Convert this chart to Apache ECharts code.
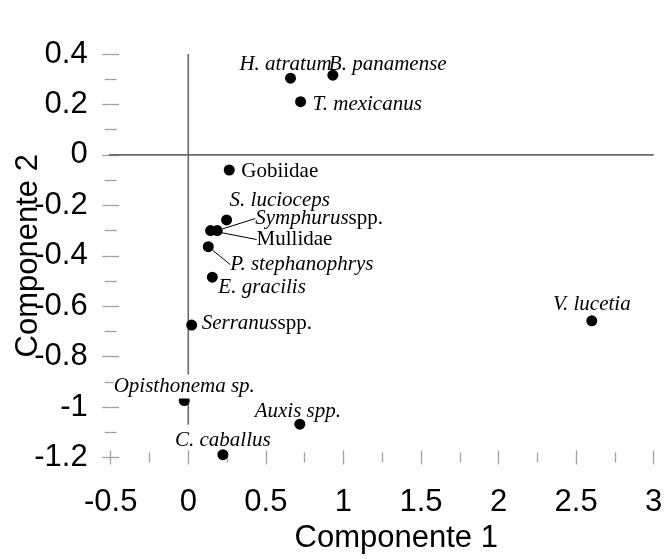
<!DOCTYPE html>
<html><head><meta charset="utf-8">
<script src="https://cdn.jsdelivr.net/npm/echarts@6/dist/echarts.min.js"></script>
<style>html,body{margin:0;padding:0;background:#fff}#c{width:671px;height:559px}</style>
</head><body><div id="c"></div>
<script>
// ---- data ----
const speciesNames = ['H. atratum','B. panamense','T. mexicanus','Gobiidae','S. lucioceps','Symphurus spp.','Mullidae','P. stephanophrys','E. gracilis','Serranus spp.','Opisthonema sp.','Auxis spp.','C. caballus','V. lucetia'];
const componente1 = [0.659, 0.932, 0.724, 0.264, 0.247, 0.187, 0.144, 0.129, 0.155, 0.022, -0.026, 0.719, 0.223, 2.601];
const componente2 = [0.304, 0.316, 0.211, -0.060, -0.258, -0.300, -0.300, -0.364, -0.485, -0.675, -0.974, -1.068, -1.189, -0.658];
const xAxisMin = -0.5, xAxisMax = 3, xAxisStep = 0.5;
const yAxisMin = -1.2, yAxisMax = 0.4, yAxisStep = 0.2;
// origin reference lines (x = 0 and y = 0)
const vRefX = [0, 0], vRefY = [0.4, -1.07];
const hRefX = [-0.55, 3], hRefY = [0, 0];

// ---- label text (italic genus / normal) ----
const labelRich = {
  'H. atratum': '{i|H. atratum}',
  'B. panamense': '{i|B. panamense}',
  'T. mexicanus': '{i|T. mexicanus}',
  'Gobiidae': '{n|Gobiidae}',
  'S. lucioceps': '{i|S. lucioceps}',
  'Symphurus spp.': '{i|Symphurus}{n|spp.}',
  'Mullidae': '{n|Mullidae}',
  'P. stephanophrys': '{i|P. stephanophrys}',
  'E. gracilis': '{i|E. gracilis}',
  'Serranus spp.': '{i|Serranus}{n|spp.}',
  'Opisthonema sp.': '{i|Opisthonema sp.}',
  'Auxis spp.': '{i|Auxis spp.}',
  'C. caballus': '{i|C. caballus}',
  'V. lucetia': '{i|V. lucetia}'
};
// ---- label placement (style, not data) ----
const labelPlace = {
  'H. atratum': {align:'center', off:[-5,-14]},
  'B. panamense': {align:'left', off:[-4,-11]},
  'T. mexicanus': {align:'left', off:[12,3]},
  'Gobiidae': {align:'left', off:[12,1]},
  'S. lucioceps': {align:'left', off:[3,-19]},
  'Symphurus spp.': {align:'left', off:[38,-12], line:true},
  'Mullidae': {align:'left', off:[46,9], line:true},
  'P. stephanophrys': {align:'left', off:[22,18], line:true},
  'E. gracilis': {align:'left', off:[6,10]},
  'Serranus spp.': {align:'left', off:[10,-2]},
  'Opisthonema sp.': {align:'center', off:[0,-14], bg:true},
  'Auxis spp.': {align:'center', off:[-2,-13]},
  'C. caballus': {align:'center', off:[0,-14]},
  'V. lucetia': {align:'center', off:[0,-16]}
};

const tickColor = '#a0a0a0';
const refColor = '#6a6a6a';
const labelFont = 'Liberation Serif';
const axisFont = 'Liberation Sans';

const scatterData = speciesNames.map((n, i) => {
  const p = labelPlace[n];
  const item = {
    name: n,
    value: [componente1[i], componente2[i]],
    label: {
      show: true,
      position: 'inside',
      align: p.align,
      verticalAlign: 'middle',
      offset: p.off,
      formatter: labelRich[n],
      color: '#000',
      opacity: 1,
      textBorderWidth: 0,
      backgroundColor: p.bg ? '#fff' : 'transparent',
      padding: p.bg ? [1, 0] : 0
    }
  };
  if (p.line) item.labelLine = {show: true, length2: 0, lineStyle: {color: '#000', width: 1, opacity: 1}};
  return item;
});

function makeXAxis(inside) {
  return {
    type: 'value', position: 'bottom', min: xAxisMin, max: xAxisMax, interval: xAxisStep,
    axisLine: {show: false, onZero: false}, splitLine: {show: false},
    axisTick: {show: true, inside: inside, length: 7, lineStyle: {color: tickColor, width: 1.3}},
    minorTick: {show: true, splitNumber: 2, length: 5, lineStyle: {color: tickColor, width: 1.3}},
    minorSplitLine: {show: false},
    axisLabel: {show: !inside, fontSize: 31, color: '#000', fontFamily: axisFont, margin: 29},
    name: inside ? '' : 'Componente 1', nameLocation: 'middle', nameGap: 65, nameMoveOverlap: false,
    nameTextStyle: {fontSize: 31, color: '#000', fontFamily: axisFont, padding: [0, 0, 0, 28]}
  };
}
function makeYAxis(inside) {
  return {
    type: 'value', position: 'left', min: yAxisMin, max: yAxisMax, interval: yAxisStep,
    axisLine: {show: false, onZero: false}, splitLine: {show: false},
    axisTick: {show: true, inside: inside, length: 8.5, lineStyle: {color: tickColor, width: 1.3}},
    minorTick: {show: true, splitNumber: 2, length: 6, lineStyle: {color: tickColor, width: 1.3}},
    minorSplitLine: {show: false},
    axisLabel: {show: !inside, fontSize: 31, color: '#000', fontFamily: axisFont, margin: 23},
    name: inside ? '' : 'Componente 2', nameLocation: 'middle', nameGap: 67, nameMoveOverlap: false,
    nameTextStyle: {fontSize: 31, color: '#000', fontFamily: axisFont}
  };
}

const chart = echarts.init(document.getElementById('c'), null, {renderer: 'canvas'});
chart.setOption({
  animation: false,
  backgroundColor: '#fff',
  grid: {left: 110.7, right: 17.3, top: 54, bottom: 101.5, containLabel: false, outerBoundsMode: 'none'},
  xAxis: [makeXAxis(false), makeXAxis(true)],
  yAxis: [makeYAxis(false), makeYAxis(true)],
  series: [
    {type: 'line', silent: true, symbol: 'none', clip: false, z: 1,
     data: vRefX.map((x, i) => [x, vRefY[i]]), lineStyle: {color: refColor, width: 1.6}},
    {type: 'line', silent: true, symbol: 'none', clip: false, z: 1,
     data: hRefX.map((x, i) => [x, hRefY[i]]), lineStyle: {color: refColor, width: 1.6}},
    {type: 'scatter', symbol: 'circle', symbolSize: 11, z: 3, clip: false,
     itemStyle: {color: '#000', opacity: 1},
     label: {
       show: true, color: '#000', fontFamily: labelFont, fontSize: 21,
       rich: {
         i: {fontFamily: labelFont, fontSize: 21, fontStyle: 'italic', color: '#000', lineHeight: 22},
         n: {fontFamily: labelFont, fontSize: 21, fontStyle: 'normal', color: '#000', lineHeight: 22}
       }
     },
     data: scatterData}
  ]
});
</script>
</body></html>
